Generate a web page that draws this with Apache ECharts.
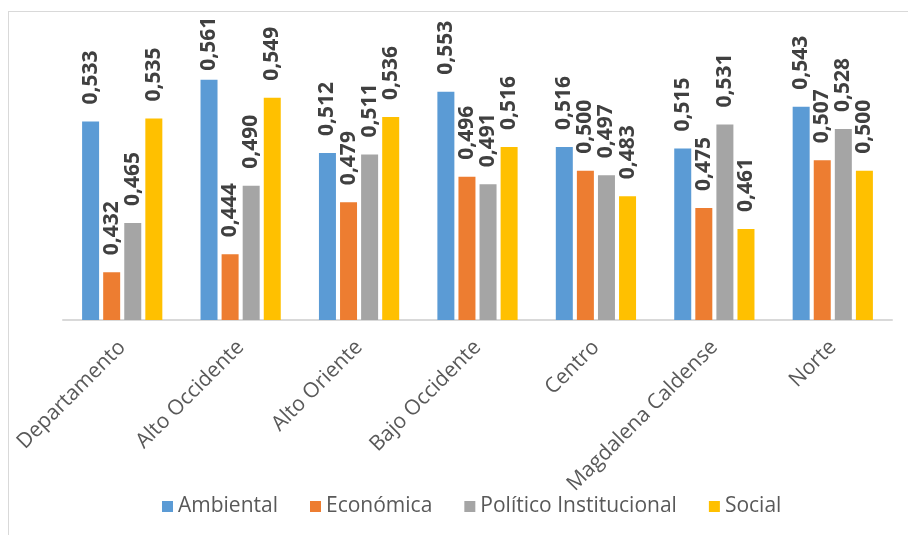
<!DOCTYPE html>
<html>
<head>
<meta charset="utf-8">
<script src="https://cdn.jsdelivr.net/npm/echarts@6/dist/echarts.min.js"></script>
<style>
  html, body { margin: 0; padding: 0; background: #ffffff; }
  #chart { width: 908px; height: 535px; }
</style>
</head>
<body>
<div id="chart"></div>
<script>
// Regiones (categorías del eje X)
const categories = ['Departamento', 'Alto Occidente', 'Alto Oriente', 'Bajo Occidente', 'Centro', 'Magdalena Caldense', 'Norte'];

// Índices por dimensión
const ambiental = [0.533, 0.561, 0.512, 0.553, 0.516, 0.515, 0.543];
const economica = [0.432, 0.444, 0.479, 0.496, 0.500, 0.475, 0.507];
const politicoInstitucional = [0.465, 0.490, 0.511, 0.491, 0.497, 0.531, 0.528];
const social = [0.535, 0.549, 0.536, 0.516, 0.483, 0.461, 0.500];

const seriesNames = ['Ambiental', 'Económica', 'Político Institucional', 'Social'];
const seriesData = [ambiental, economica, politicoInstitucional, social];
const colors = ['#5B9BD5', '#ED7D31', '#A5A5A5', '#FFC000'];

const chart = echarts.init(document.getElementById('chart'), null, { renderer: 'canvas' });

const fmt = p => p.value.toFixed(3).replace('.', ',');

// Etiquetas que quedarían fuera del área se acercan a la barra
const labelDistance = (v) => (v > 0.555 ? 9 : 17);

chart.setOption({
  animation: false,
  color: colors,
  grid: { left: 63, right: 16, top: 21.6, bottom: 215, containLabel: false },
  graphic: [
    { type: 'line', shape: { x1: 8, y1: 11.5, x2: 908, y2: 11.5 }, style: { stroke: '#d9d9d9', lineWidth: 1 } },
    { type: 'line', shape: { x1: 8.5, y1: 11, x2: 8.5, y2: 535 }, style: { stroke: '#d9d9d9', lineWidth: 1 } }
  ],
  legend: {
    data: seriesNames,
    left: 157,
    top: 491,
    itemWidth: 11,
    itemHeight: 11,
    itemGap: 32,
    icon: 'rect',
    textStyle: { color: '#595959', fontSize: 21, fontFamily: 'Open Sans', padding: [0, 0, 0, 0] }
  },
  xAxis: {
    type: 'category',
    data: categories,
    axisLine: { show: true, lineStyle: { color: '#d9d9d9', width: 2 } },
    axisTick: { show: false },
    axisLabel: {
      rotate: 45,
      interval: 0,
      margin: 24,
      color: '#595959',
      fontSize: 21,
      fontFamily: 'Open Sans'
    }
  },
  yAxis: {
    type: 'value',
    min: 0.4,
    max: 0.6,
    show: false,
    splitLine: { show: false }
  },
  series: seriesNames.map((name, i) => ({
    name: name,
    type: 'bar',
    data: seriesData[i].map(v => ({
      value: v,
      label: { distance: labelDistance(v) }
    })),
    barWidth: 17,
    barGap: '24%',
    itemStyle: { color: colors[i] },
    label: {
      show: true,
      position: 'top',
      rotate: 90,
      align: 'left',
      verticalAlign: 'middle',
      formatter: fmt,
      color: '#404040',
      fontSize: 21,
      fontWeight: 'bold',
      fontFamily: 'Open Sans'
    }
  }))
});
</script>
</body>
</html>
